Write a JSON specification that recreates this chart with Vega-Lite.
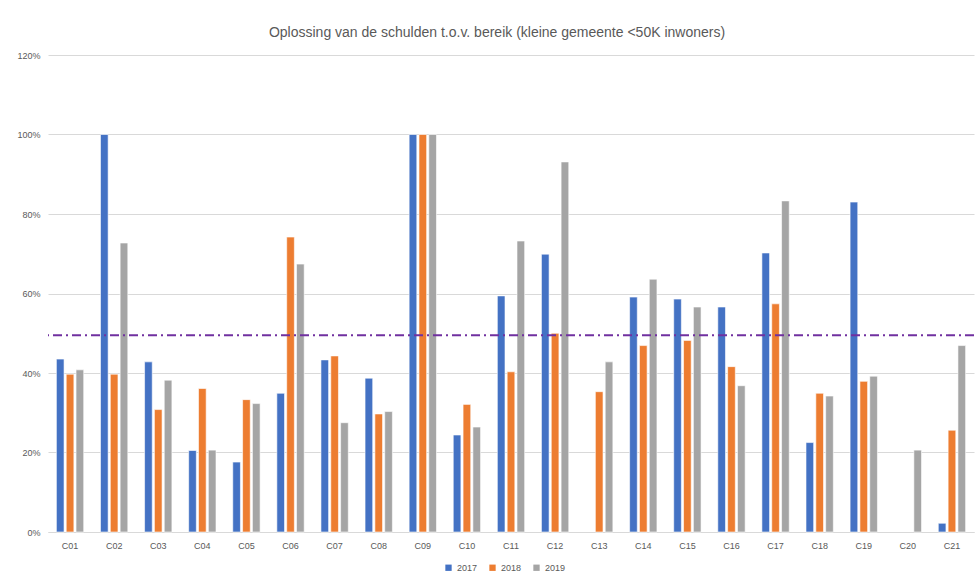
{
  "$schema": "https://vega.github.io/schema/vega-lite/v6.json",
  "autosize": {"type": "none"},
  "width": 926,
  "height": 477,
  "padding": {"left": 48, "top": 55, "right": 4, "bottom": 46},
  "background": "white",
  "config": {
    "font": "Liberation Sans Narrow, Liberation Sans, sans-serif",
    "view": {"stroke": null},
    "axis": {"labelColor": "#595959", "labelFontSize": 9, "titleColor": "#595959"}
  },
  "title": {
    "text": "Oplossing van de schulden t.o.v. bereik (kleine gemeente <50K inwoners)",
    "fontSize": 14,
    "fontWeight": "normal",
    "color": "#595959",
    "anchor": "middle",
    "dx": -14,
    "offset": 11
  },
  "data": {
    "values": [
      {"c": "C01", "jaar": "2017", "v": 0.435}, {"c": "C01", "jaar": "2018", "v": 0.397}, {"c": "C01", "jaar": "2019", "v": 0.408},
      {"c": "C02", "jaar": "2017", "v": 1.0}, {"c": "C02", "jaar": "2018", "v": 0.397}, {"c": "C02", "jaar": "2019", "v": 0.727},
      {"c": "C03", "jaar": "2017", "v": 0.428}, {"c": "C03", "jaar": "2018", "v": 0.308}, {"c": "C03", "jaar": "2019", "v": 0.382},
      {"c": "C04", "jaar": "2017", "v": 0.205}, {"c": "C04", "jaar": "2018", "v": 0.361}, {"c": "C04", "jaar": "2019", "v": 0.206},
      {"c": "C05", "jaar": "2017", "v": 0.176}, {"c": "C05", "jaar": "2018", "v": 0.333}, {"c": "C05", "jaar": "2019", "v": 0.323},
      {"c": "C06", "jaar": "2017", "v": 0.349}, {"c": "C06", "jaar": "2018", "v": 0.742}, {"c": "C06", "jaar": "2019", "v": 0.674},
      {"c": "C07", "jaar": "2017", "v": 0.433}, {"c": "C07", "jaar": "2018", "v": 0.443}, {"c": "C07", "jaar": "2019", "v": 0.275},
      {"c": "C08", "jaar": "2017", "v": 0.387}, {"c": "C08", "jaar": "2018", "v": 0.297}, {"c": "C08", "jaar": "2019", "v": 0.303},
      {"c": "C09", "jaar": "2017", "v": 1.0}, {"c": "C09", "jaar": "2018", "v": 1.0}, {"c": "C09", "jaar": "2019", "v": 1.0},
      {"c": "C10", "jaar": "2017", "v": 0.244}, {"c": "C10", "jaar": "2018", "v": 0.321}, {"c": "C10", "jaar": "2019", "v": 0.264},
      {"c": "C11", "jaar": "2017", "v": 0.594}, {"c": "C11", "jaar": "2018", "v": 0.403}, {"c": "C11", "jaar": "2019", "v": 0.732},
      {"c": "C12", "jaar": "2017", "v": 0.699}, {"c": "C12", "jaar": "2018", "v": 0.5}, {"c": "C12", "jaar": "2019", "v": 0.931},
      {"c": "C13", "jaar": "2018", "v": 0.353}, {"c": "C13", "jaar": "2019", "v": 0.428},
      {"c": "C14", "jaar": "2017", "v": 0.591}, {"c": "C14", "jaar": "2018", "v": 0.469}, {"c": "C14", "jaar": "2019", "v": 0.636},
      {"c": "C15", "jaar": "2017", "v": 0.586}, {"c": "C15", "jaar": "2018", "v": 0.482}, {"c": "C15", "jaar": "2019", "v": 0.566},
      {"c": "C16", "jaar": "2017", "v": 0.566}, {"c": "C16", "jaar": "2018", "v": 0.416}, {"c": "C16", "jaar": "2019", "v": 0.368},
      {"c": "C17", "jaar": "2017", "v": 0.702}, {"c": "C17", "jaar": "2018", "v": 0.574}, {"c": "C17", "jaar": "2019", "v": 0.833},
      {"c": "C18", "jaar": "2017", "v": 0.225}, {"c": "C18", "jaar": "2018", "v": 0.349}, {"c": "C18", "jaar": "2019", "v": 0.342},
      {"c": "C19", "jaar": "2017", "v": 0.83}, {"c": "C19", "jaar": "2018", "v": 0.379}, {"c": "C19", "jaar": "2019", "v": 0.392},
      {"c": "C20", "jaar": "2019", "v": 0.206},
      {"c": "C21", "jaar": "2017", "v": 0.022}, {"c": "C21", "jaar": "2018", "v": 0.256}, {"c": "C21", "jaar": "2019", "v": 0.469}
    ]
  },
  "layer": [
    {
      "mark": {"type": "bar", "stroke": "white", "strokeWidth": 0.6},
      "encoding": {
        "x": {
          "field": "c", "type": "nominal", "sort": null,
          "scale": {"paddingInner": 0.38, "paddingOuter": 0.19},
          "axis": {"title": null, "labelAngle": 0, "ticks": false, "domainColor": "#d9d9d9", "labelPadding": 9}
        },
        "xOffset": {"field": "jaar", "type": "nominal", "scale": {"paddingInner": 0.22}},
        "y": {
          "field": "v", "type": "quantitative",
          "scale": {"domain": [0, 1.2], "nice": false},
          "axis": {"title": null, "format": ".0%", "values": [0, 0.2, 0.4, 0.6, 0.8, 1.0, 1.2], "domain": false, "ticks": false, "gridColor": "#d9d9d9", "labelPadding": 8}
        },
        "color": {
          "field": "jaar", "type": "nominal",
          "scale": {"domain": ["2017", "2018", "2019"], "range": ["#4472C4", "#ED7D31", "#A5A5A5"]},
          "legend": {"title": null, "orient": "none", "legendX": 396, "legendY": 508, "direction": "horizontal", "symbolType": "square", "symbolSize": 40, "labelFontSize": 9, "labelColor": "#595959", "columnPadding": 10, "symbolStrokeWidth": 0}
        }
      }
    },
    {
      "data": {"values": [{"gemiddelde": 0.495}]},
      "mark": {"type": "rule", "color": "#7030A0", "strokeWidth": 2, "strokeDash": [9, 4, 2, 4]},
      "encoding": {"y": {"field": "gemiddelde", "type": "quantitative"}}
    }
  ]
}
